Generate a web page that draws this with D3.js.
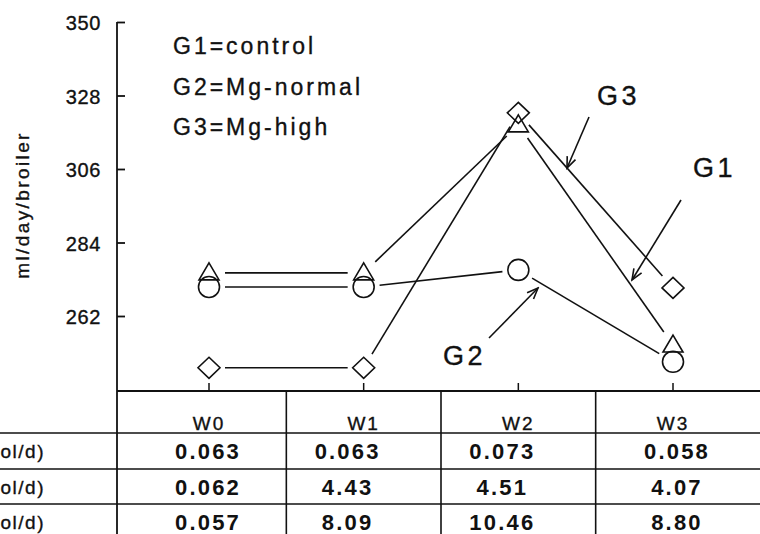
<!DOCTYPE html>
<html>
<head>
<meta charset="utf-8">
<script src="https://cdn.jsdelivr.net/npm/d3@7"></script>
<style>
  body { margin: 0; background: #fff; }
  svg { display: block; font-family: "Liberation Sans", Arial, sans-serif; }
  .ink { stroke: #111; stroke-width: 0.35px; }
</style>
</head>
<body>
<div id="chart"></div>
<script>
// Water intake (ml/day/broiler) per week
var weeks = ["W0", "W1", "W2", "W3"];
var g1Water = [274.9, 274.9, 319.2, 253.3];
var g2Water = [270.7, 270.7, 275.8, 248.3];
var g3Water = [246.5, 246.5, 322.8, 270.4];
var yTicks = [262, 284, 306, 328, 350];

// Legend text and table below the chart
var legendLines = ["G1=control", "G2=Mg-normal", "G3=Mg-high"];
var rowLabels = ["G1 Mg intake (mmol/d)", "G2 Mg intake (mmol/d)", "G3 Mg intake (mmol/d)"];
var mgG1 = ["0.063", "0.063", "0.073", "0.058"];
var mgG2 = ["0.062", "4.43", "4.51", "4.07"];
var mgG3 = ["0.057", "8.09", "10.46", "8.80"];

var width = 760, height = 534;
var axisX = 117;

var svg = d3.select("#chart")
    .append("svg")
    .attr("width", width)
    .attr("height", height);

var x = d3.scalePoint()
    .domain(weeks)
    .range([209, 673]);

var y = d3.scaleLinear()
    .domain([240, 350])
    .range([389.5, 22]);

// arrow heads for the group labels
svg.append("defs").append("marker")
    .attr("id", "arrow")
    .attr("viewBox", "-12 -6 14 12")
    .attr("refX", 0).attr("refY", 0)
    .attr("markerWidth", 14).attr("markerHeight", 12)
    .attr("markerUnits", "userSpaceOnUse")
    .attr("orient", "auto")
    .append("path")
    .attr("d", "M-11,-4.5L0,0L-11,4.5")
    .attr("fill", "none")
    .attr("stroke", "#111")
    .attr("stroke-width", 1.6);

// Y axis
var yAxis = d3.axisLeft(y)
    .tickValues(yTicks)
    .tickSizeInner(-8)
    .tickSizeOuter(0)
    .tickPadding(16);

var gy = svg.append("g")
    .attr("transform", "translate(" + axisX + ",0)")
    .call(yAxis);
gy.select(".domain").remove();
gy.selectAll(".tick line").attr("stroke", "#111").attr("stroke-width", 1.8);
gy.selectAll(".tick text")
    .attr("class", "ink")
    .attr("fill", "#111")
    .style("font-size", "20px")
    .style("letter-spacing", "0.6px")
    .attr("dy", "0.38em");

// axis line runs down into the table
svg.append("line")
    .attr("x1", axisX).attr("x2", axisX)
    .attr("y1", y(350)).attr("y2", height)
    .attr("stroke", "#111").attr("stroke-width", 1.8);

// X axis with ticks pointing up
var baseY = 391;
svg.append("line")
    .attr("x1", axisX).attr("x2", width)
    .attr("y1", baseY).attr("y2", baseY)
    .attr("stroke", "#111").attr("stroke-width", 1.8);
svg.append("g").selectAll("line")
    .data(weeks).enter().append("line")
    .attr("x1", function (d) { return x(d); })
    .attr("x2", function (d) { return x(d); })
    .attr("y1", baseY).attr("y2", baseY - 8)
    .attr("stroke", "#111").attr("stroke-width", 1.5);

// Y label
svg.append("text")
    .attr("class", "ink")
    .attr("transform", "translate(29," + 205 + ") rotate(-90)")
    .attr("text-anchor", "middle")
    .style("font-size", "19px")
    .style("letter-spacing", "2.4px")
    .attr("fill", "#111")
    .text("ml/day/broiler");

// Legend
svg.append("g").selectAll("text")
    .data(legendLines).enter().append("text")
    .attr("class", "ink")
    .attr("x", 173)
    .attr("y", function (d, i) { return 54 + i * 40.5; })
    .style("font-size", "23px")
    .style("letter-spacing", "3px")
    .attr("fill", "#111")
    .text(function (d) { return d; });

// Series: line segments stop short of the markers
var series = [
    { name: "G1", values: g1Water, shape: "triangle" },
    { name: "G2", values: g2Water, shape: "circle" },
    { name: "G3", values: g3Water, shape: "diamond" }
];
var gap = 16;

series.forEach(function (s) {
    var pts = s.values.map(function (v, i) { return [x(weeks[i]), y(v)]; });
    var segs = d3.pairs(pts);
    svg.append("g").selectAll("line")
        .data(segs).enter().append("line")
        .each(function (p) {
            var dx = p[1][0] - p[0][0], dy = p[1][1] - p[0][1];
            var len = Math.sqrt(dx * dx + dy * dy);
            var ux = dx / len, uy = dy / len;
            d3.select(this)
                .attr("x1", p[0][0] + ux * gap).attr("y1", p[0][1] + uy * gap)
                .attr("x2", p[1][0] - ux * gap).attr("y2", p[1][1] - uy * gap);
        })
        .attr("stroke", "#111")
        .attr("stroke-width", 1.6);
});

var shapes = {
    triangle: "M0,-10L10,7L-10,7Z",
    circle: d3.symbol().type(d3.symbolCircle).size(Math.PI * 10.5 * 10.5)(),
    diamond: "M0,-10.5L11,0L0,10.5L-11,0Z"
};

series.forEach(function (s) {
    svg.append("g").selectAll("path")
        .data(s.values).enter().append("path")
        .attr("transform", function (d, i) { return "translate(" + x(weeks[i]) + "," + y(d) + ")"; })
        .attr("d", shapes[s.shape])
        .attr("fill", "none")
        .attr("stroke", "#111")
        .attr("stroke-width", 1.6);
});

// Group labels with arrows
var callouts = [
    { label: "G3", tx: 597, ty: 105, from: [589, 117], to: [567, 168] },
    { label: "G1", tx: 693, ty: 177, from: [681, 200], to: [632, 280] },
    { label: "G2", tx: 443, ty: 365, from: [489, 338], to: [538, 288] }
];
callouts.forEach(function (c) {
    svg.append("text")
        .attr("class", "ink")
        .attr("x", c.tx).attr("y", c.ty)
        .style("font-size", "27px")
        .style("letter-spacing", "3.5px")
        .attr("fill", "#111")
        .text(c.label);
    svg.append("line")
        .attr("x1", c.from[0]).attr("y1", c.from[1])
        .attr("x2", c.to[0]).attr("y2", c.to[1])
        .attr("stroke", "#111")
        .attr("stroke-width", 1.6)
        .attr("marker-end", "url(#arrow)");
});

// Table under the x axis
var rowLines = [433, 469, 504];
var rowBase = [459, 495, 530];
var valueNudge = [-1, -16, -16, 4];
var cellRows = [mgG1, mgG2, mgG3];

var colEdges = d3.pairs(weeks).map(function (p) { return (x(p[0]) + x(p[1])) / 2; });

svg.append("g").selectAll("line")
    .data(colEdges).enter().append("line")
    .attr("x1", function (d) { return d; }).attr("x2", function (d) { return d; })
    .attr("y1", baseY).attr("y2", height)
    .attr("stroke", "#111").attr("stroke-width", 1.6);

svg.append("g").selectAll("line")
    .data(rowLines).enter().append("line")
    .attr("x1", 0).attr("x2", width)
    .attr("y1", function (d) { return d; }).attr("y2", function (d) { return d; })
    .attr("stroke", "#111").attr("stroke-width", 1.6);

svg.append("g").selectAll("text")
    .data(weeks).enter().append("text")
    .attr("class", "ink")
    .attr("x", function (d) { return x(d); })
    .attr("y", 430)
    .attr("text-anchor", "middle")
    .style("font-size", "19px")
    .style("letter-spacing", "2px")
    .attr("fill", "#111")
    .text(function (d) { return d; });

cellRows.forEach(function (row, r) {
    svg.append("text")
        .attr("class", "ink")
        .attr("x", 45).attr("y", rowBase[r] - 1)
        .attr("text-anchor", "end")
        .style("font-size", "19px")
        .style("letter-spacing", "1.5px")
        .attr("fill", "#111")
        .text(rowLabels[r]);

    svg.append("g").selectAll("text")
        .data(row).enter().append("text")
        .attr("x", function (d, i) { return x(weeks[i]) + valueNudge[i]; })
        .attr("y", rowBase[r])
        .attr("text-anchor", "middle")
        .style("font-size", "22px")
        .style("font-weight", "bold")
        .style("letter-spacing", "2.2px")
        .attr("fill", "#111")
        .text(function (d) { return d; });
});
</script>
</body>
</html>
